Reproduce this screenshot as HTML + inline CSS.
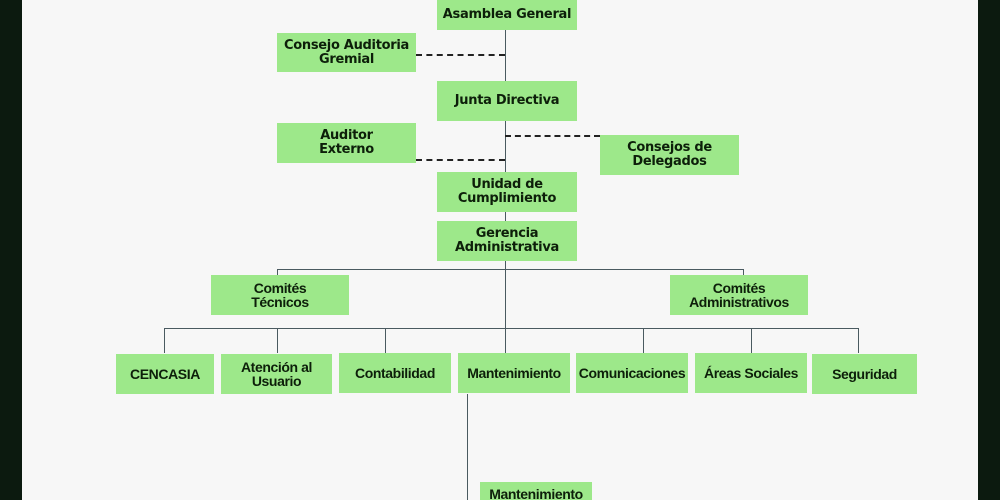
<!DOCTYPE html>
<html><head><meta charset="utf-8"><style>
html,body{margin:0;width:1000px;height:500px;overflow:hidden;}
body{background:#f7f7f7;position:relative;font-family:"DejaVu Sans","Liberation Sans",sans-serif;}
.b{position:absolute;background:#9de88a;color:#0d1f0a;font-size:13px;line-height:14px;display:flex;align-items:center;justify-content:center;text-align:center;font-weight:bold;letter-spacing:-0.3px;}
.n{font-family:"Liberation Sans Narrow","Liberation Sans",sans-serif;font-size:14px;font-weight:bold;letter-spacing:-0.4px;}
.l{position:absolute;background:#4a5a60;}
.d{position:absolute;height:0;border-top:2px dashed #222;}
</style></head><body>
<div style="position:absolute;left:0;top:0;width:22px;height:500px;background:#0c1a0f"></div>
<div style="position:absolute;left:978px;top:0;width:22px;height:500px;background:#0c1a0f"></div>
<div class="l" style="left:505px;top:30px;width:1px;height:298px"></div>
<div class="d" style="left:416px;top:54px;width:89px"></div>
<div class="d" style="left:505px;top:135px;width:95px"></div>
<div class="d" style="left:416px;top:159px;width:89px"></div>
<div class="l" style="left:277px;top:269px;width:467px;height:1px"></div>
<div class="l" style="left:277px;top:269px;width:1px;height:6px"></div>
<div class="l" style="left:743px;top:269px;width:1px;height:6px"></div>
<div class="l" style="left:164px;top:328px;width:695px;height:1px"></div>
<div class="l" style="left:164px;top:328px;width:1px;height:25px"></div>
<div class="l" style="left:277px;top:328px;width:1px;height:25px"></div>
<div class="l" style="left:385px;top:328px;width:1px;height:25px"></div>
<div class="l" style="left:505px;top:328px;width:1px;height:25px"></div>
<div class="l" style="left:643px;top:328px;width:1px;height:25px"></div>
<div class="l" style="left:751px;top:328px;width:1px;height:25px"></div>
<div class="l" style="left:858px;top:328px;width:1px;height:25px"></div>
<div class="l" style="left:467px;top:394px;width:1px;height:106px"></div>

<div class="b" style="left:437px;top:0;width:140px;height:30px">Asamblea General</div>
<div class="b" style="left:277px;top:33px;width:139px;height:39px">Consejo Auditoria<br>Gremial</div>
<div class="b" style="left:437px;top:81px;width:140px;height:40px">Junta Directiva</div>
<div class="b" style="left:277px;top:123px;width:139px;height:40px">Auditor<br>Externo</div>
<div class="b" style="left:600px;top:135px;width:139px;height:40px">Consejos de<br>Delegados</div>
<div class="b" style="left:437px;top:172px;width:140px;height:40px">Unidad de<br>Cumplimiento</div>
<div class="b" style="left:437px;top:221px;width:140px;height:40px">Gerencia<br>Administrativa</div>
<div class="b n" style="left:211px;top:275px;width:138px;height:40px">Comités<br>Técnicos</div>
<div class="b n" style="left:670px;top:275px;width:138px;height:40px">Comités<br>Administrativos</div>
<div class="b n" style="left:116px;top:354px;width:98px;height:40px">CENCASIA</div>
<div class="b n" style="left:221px;top:354px;width:111px;height:40px">Atención al<br>Usuario</div>
<div class="b n" style="left:339px;top:353px;width:112px;height:40px">Contabilidad</div>
<div class="b n" style="left:458px;top:353px;width:112px;height:40px">Mantenimiento</div>
<div class="b n" style="left:576px;top:353px;width:112px;height:40px">Comunicaciones</div>
<div class="b n" style="left:695px;top:353px;width:112px;height:40px">Áreas Sociales</div>
<div class="b n" style="left:812px;top:354px;width:105px;height:40px">Seguridad</div>
<div class="b n" style="left:480px;top:482px;width:112px;height:18px;align-items:flex-start;padding-top:5px;box-sizing:border-box;overflow:hidden">Mantenimiento</div>
</body></html>
